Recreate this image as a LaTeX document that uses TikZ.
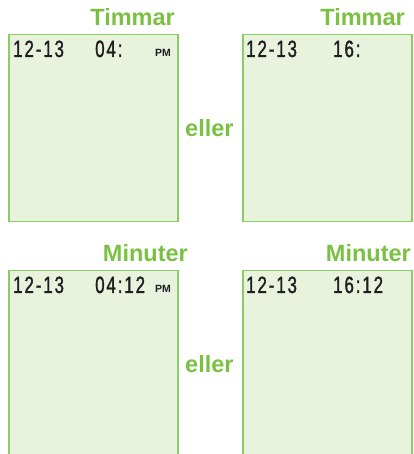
\documentclass[tikz,border=0pt]{standalone}
\usepackage{fontspec}
\setmainfont{Liberation Sans}
\newfontfamily\lcdfont[FakeStretch=0.72, LetterSpace=8, FakeBold=1.2]{Liberation Sans}
\usetikzlibrary{positioning}
\definecolor{lcdgreen}{RGB}{122, 193, 66}
\definecolor{lcdedge}{RGB}{140, 204, 102}
\definecolor{lcdfill}{RGB}{232, 242, 221}
\definecolor{lcdink}{RGB}{30, 30, 30}
\tikzset{
  screen/.style={
    draw=lcdedge,
    line width=1.5pt,
    fill=lcdfill,
    anchor=north west,
    minimum width=169pt,
    minimum height=187pt,
    inner sep=0pt
  },
  heading/.style={
    font=\fontsize{23.5}{24}\selectfont\bfseries,
    text=lcdgreen,
    inner sep=0pt
  },
  digits/.style={
    font=\lcdfont\fontsize{23.5}{24}\selectfont,
    text=lcdink,
    inner sep=0pt,
    anchor=base west
  },
  ampm/.style={
    font=\fontsize{10.5}{11}\selectfont\bfseries,
    text=lcdink,
    inner sep=0pt,
    anchor=base west
  }
}

\begin{document}
\begin{tikzpicture}[x=1pt, y=1pt]
          \useasboundingbox (0,0) rectangle (413,454);
          % hours
          \node[screen] (hr12) at (8, 420) {};
          \node[screen] (hr24) at (242, 420) {};
          \node[heading, anchor=base east] (th12) at (175, 428) {Timmar};
          \node[heading, anchor=base east] (th24) at (405, 428) {Timmar};
          \node[heading, anchor=base west] (or1) at (185, 317) {eller};
          \node[digits] (dt1) at (13, 397) {12-13};
          \node[digits] (hm1) at (95, 397) {04:};
          \node[ampm] (pm1) at (155, 397) {PM};
          \node[digits] (dt2) at (246, 397) {12-13};
          \node[digits] (hm2) at (333, 397) {16:};

          % minutes
          \node[screen, minimum height=190pt] (mn12) at (8, 184) {};
          \node[screen, minimum height=190pt] (mn24) at (242, 184) {};
          \node[heading, anchor=base east] (tm12) at (188, 192) {Minuter};
          \node[heading, anchor=base east] (tm24) at (411, 192) {Minuter};
          \node[heading, anchor=base west] (or2) at (185, 81) {eller};
          \node[digits] (dt3) at (13, 161) {12-13};
          \node[digits] (hm3) at (95, 161) {04:12};
          \node[ampm] (pm3) at (155, 161) {PM};
          \node[digits] (dt4) at (246, 161) {12-13};
          \node[digits] (hm4) at (333, 161) {16:12};
        \end{tikzpicture}
\end{document}
